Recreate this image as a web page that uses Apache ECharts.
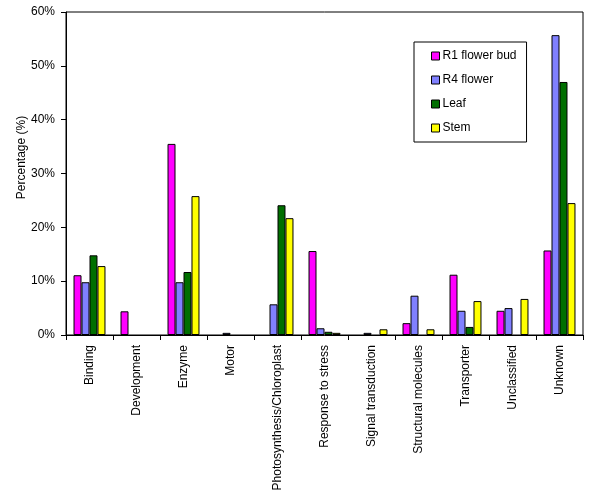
<!DOCTYPE html>
<html><head><meta charset="utf-8">
<script src="https://cdn.jsdelivr.net/npm/echarts@6/dist/echarts.min.js"></script>
<style>html,body{margin:0;padding:0;background:#fff}#c{width:599px;height:503px}</style>
</head><body><div id="c"></div>
<script>
const categories = ["Binding","Development","Enzyme","Motor","Photosynthesis/Chloroplast","Response to stress","Signal transduction","Structural molecules","Transporter","Unclassified","Unknown"];
const seriesNames = ["R1 flower bud","R4 flower","Leaf","Stem"];
const r1FlowerBud = [11.1, 4.4, 35.5, 0, 0, 15.6, 0, 2.2, 11.2, 4.5, 15.7];
const r4Flower   = [9.8, 0, 9.8, 0.4, 5.7, 1.25, 0.4, 7.3, 4.5, 5.0, 55.7];
const leaf       = [14.8, 0, 11.7, 0, 24.1, 0.6, 0, 0, 1.5, 0, 47.0];
const stem       = [12.8, 0, 25.8, 0, 21.7, 0.4, 1.06, 1.06, 6.3, 6.7, 24.5];
const yTicks = [0,10,20,30,40,50,60];
const colors = ["#FF00FF","#8080FF","#006F00","#FFFF00"];
const values = [r1FlowerBud, r4Flower, leaf, stem];
const font = "Liberation Sans, Arial, sans-serif";
const chart = echarts.init(document.getElementById('c'), null, {renderer:'canvas'});
chart.setOption({
  animation:false,
  color: colors,
  grid:{left:66, right:16, top:12, bottom:168, show:true, borderColor:'#000', borderWidth:1, backgroundColor:'#fff'},
  legend:{
    orient:'vertical', left:414, top:42,
    padding:[7,10,7,17], itemGap:10, itemWidth:8, itemHeight:8, icon:'rect',
    borderColor:'#000', borderWidth:1, backgroundColor:'#fff',
    textStyle:{fontFamily:font, fontSize:12, color:'#000', padding:[0,0,0,-2], lineHeight:14},
    itemStyle:{borderColor:'#000', borderWidth:1},
    data: seriesNames
  },
  xAxis:{
    type:'category', data:categories,
    axisLine:{lineStyle:{color:'#000', width:1}},
    axisTick:{show:true, alignWithLabel:false, length:5, lineStyle:{color:'#000'}},
    axisLabel:{rotate:90, interval:0, fontFamily:font, fontSize:12, color:'#000', margin:10},
    splitLine:{show:false}
  },
  yAxis:{
    type:'value', min:0, max:60, interval:10,
    name:'Percentage (%)', nameLocation:'middle', nameGap:38, nameRotate:90, nameMoveOverlap:false,
    nameTextStyle:{fontFamily:font, fontSize:12, color:'#000', padding:[0,0,0,32]},
    axisLine:{show:true, lineStyle:{color:'#000', width:1}},
    axisTick:{show:true, length:5, lineStyle:{color:'#000'}},
    axisLabel:{formatter: v => yTicks.includes(v) ? v + '%' : '', fontFamily:font, fontSize:12, color:'#000', margin:11},
    splitLine:{show:false}
  },
  series: seriesNames.map((n,i)=>({
    name:n, type:'bar',
    data: values[i].map(v => v === 0 ? {value:0, itemStyle:{borderWidth:0}} : v),
    barGap:'0%', barCategoryGap:'32%',
    itemStyle:{color:colors[i], borderColor:'#000', borderWidth:1}
  }))
});
</script></body></html>
